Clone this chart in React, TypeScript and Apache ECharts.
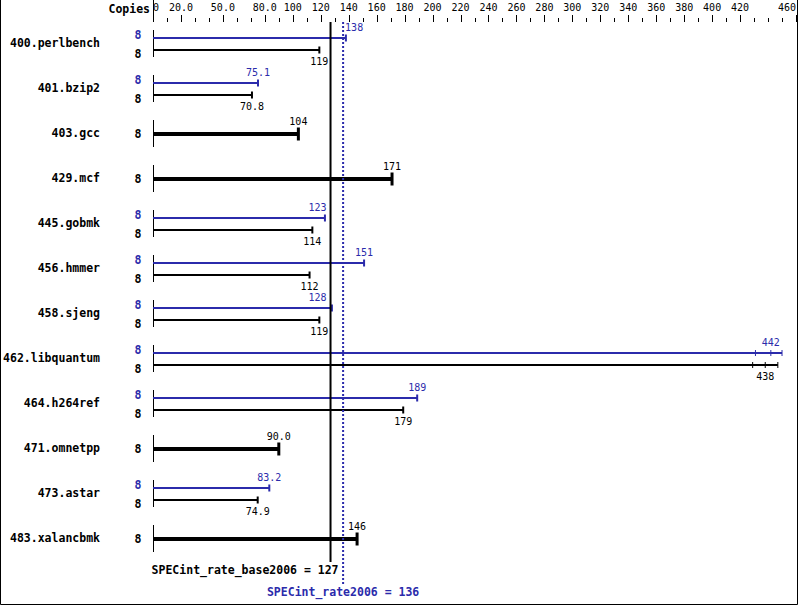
import React, { useEffect, useRef } from "react";
import * as echarts from "echarts";

const benchmarks = [
  "400.perlbench", "401.bzip2", "403.gcc", "429.mcf", "445.gobmk", "456.hmmer",
  "458.sjeng", "462.libquantum", "464.h264ref", "471.omnetpp", "473.astar", "483.xalancbmk",
];
const baseCopies = [8, 8, 8, 8, 8, 8, 8, 8, 8, 8, 8, 8];
const peakCopies: (number | null)[] = [8, 8, null, null, 8, 8, 8, 8, 8, null, 8, null];
const baseValues = [119, 70.8, 104, 171, 114, 112, 119, 438, 179, 90.0, 74.9, 146];
const peakValues: (number | null)[] = [138, 75.1, null, null, 123, 151, 128, 442, 189, null, 83.2, null];
const baseOtherRuns: number[][] = [[], [], [], [], [], [], [], [429, 447], [], [], [], []];
const peakOtherRuns: number[][] = [[], [], [], [], [], [], [], [431, 450], [], [], [], []];
const tickLabels = [
  "0", "20.0", "50.0", "80.0", "100", "120", "140", "160", "180", "200", "220", "240",
  "260", "280", "300", "320", "340", "360", "380", "400", "420", "460",
];
const baseMean = 127;
const peakMean = 136;
const baseSummaryLabel = "SPECint_rate_base2006 = 127";
const peakSummaryLabel = "SPECint_rate2006 = 136";

const AXIS_MAX = 460;
const MINOR_STEP = 10;
const tickValues = tickLabels.map((t) => parseFloat(t));
const minorTickValues: number[] = [];
for (let v = 0; v <= AXIS_MAX; v += MINOR_STEP) minorTickValues.push(v);

const MONO = "DejaVu Sans Mono";
const BLUE = "#2b2bab";
const BLACK = "#000000";
const BOLD_CHAR_W = 11.5 * 0.602;

function fmt(v: number): string {
  return v >= 100 ? v.toFixed(0) : v.toFixed(1);
}

function placeLabel(x: number, w: number, lines: number[]) {
  const overlaps = (l: number, r: number) => lines.some((L) => L >= l - 1.5 && L <= r + 1.5);
  if (!overlaps(x - w / 2, x + w / 2)) return x - w / 2;
  const conflicting = lines.filter((L) => L >= x - w / 2 - 1.5 && L <= x + w / 2 + 1.5);
  const leftL = Math.min(...conflicting);
  const rightL = Math.max(...conflicting);
  const endX = leftL - 4;
  if (!overlaps(endX - w, endX)) return endX - w;
  return rightL + 2;
}

export default function App() {
  const ref = useRef<HTMLDivElement>(null);
  useEffect(() => {
    if (!ref.current) return;
    const chart = echarts.init(ref.current, undefined, { renderer: "svg" });
    const valFont = 10;
    const charW = valFont * 0.602;

    const option: any = {
      animation: false,
      backgroundColor: "#ffffff",
      textStyle: { fontFamily: MONO },
      grid: { left: 153, right: 3, top: 22, bottom: 44, containLabel: false, outerBoundsMode: "none" },
      xAxis: {
        type: "value", position: "top", min: 0, max: AXIS_MAX,
        axisLine: { show: false, onZero: false },
        axisTick: { show: false },
        axisLabel: {
          show: true, customValues: tickValues, margin: 10,
          formatter: (v: number) => {
            const k = tickValues.indexOf(v);
            return k >= 0 ? tickLabels[k] : "";
          },
          fontFamily: MONO, fontSize: 10, color: BLACK,
          alignMinLabel: "left", alignMaxLabel: "right",
        },
        splitLine: { show: false },
      },
      yAxis: { type: "value", show: false, min: -21.5 / 45, max: -21.5 / 45 + 12, inverse: true, axisLine: { onZero: false } },
      graphic: [
        { type: "line", shape: { x1: 153.5, y1: 0, x2: 153.5, y2: 22 }, style: { stroke: BLACK, lineWidth: 1 } },
        {
          type: "text", x: 150 - 6 * BOLD_CHAR_W, y: 9,
          style: { text: "Copies", align: "left", verticalAlign: "middle", font: "bold 11.5px DejaVu Sans Mono", fill: BLACK },
        },
        { type: "polyline", shape: { points: [[0.5, 0], [0.5, 604.5], [797.5, 604.5], [797.5, 0]] }, style: { stroke: BLACK, lineWidth: 1, fill: null } },
      ],
      series: [
        {
          // axis tick marks: short every 10, long at the labelled values, placed by the x scale
          type: "custom",
          coordinateSystem: "cartesian2d",
          clip: false,
          silent: true,
          z: 10,
          data: minorTickValues.map((v) => [v, 0]),
          renderItem: (params: any, api: any) => {
            const v = api.value(0);
            const x = Math.round(api.coord([v, 0])[0]) + 0.5;
            const top = params.coordSys.y;
            const long = tickValues.indexOf(v) >= 0;
            return {
              type: "line",
              shape: { x1: x, y1: top - (long ? 7 : 4), x2: x, y2: top },
              style: { stroke: BLACK, lineWidth: 1 },
            };
          },
        },
        {
          type: "custom",
          coordinateSystem: "cartesian2d",
          clip: false,
          data: benchmarks.map((_, i) => [0, i]),
          renderItem: (params: any, api: any) => {
            const i = params.dataIndex;
            const [x0raw, cy] = api.coord([0, i]);
            const x0 = Math.round(x0raw);
            const lines = [api.coord([baseMean, 0])[0], api.coord([peakMean, 0])[0]];
            const children: any[] = [];
            const name = benchmarks[i];
            children.push({
              type: "text",
              x: x0 - 53 - name.length * BOLD_CHAR_W,
              y: cy - 0.5,
              style: { text: name, align: "left", verticalAlign: "middle", font: "bold 11.5px DejaVu Sans Mono", fill: BLACK },
            });
            children.push({ type: "line", shape: { x1: x0 + 0.5, y1: cy - 13.5, x2: x0 + 0.5, y2: cy + 13.5 }, style: { stroke: BLACK, lineWidth: 1 } });

            const drawBar = (v: number, others: number[], y: number, color: string, thick: boolean, labelPos: "above" | "below", copies: number) => {
              const all = [v, ...others];
              const xmax = api.coord([Math.max(...all), i])[0];
              children.push({ type: "line", shape: { x1: x0, y1: y, x2: xmax, y2: y }, style: { stroke: color, lineWidth: thick ? 4 : 2 } });
              const th = thick ? 13 : others.length ? 6 : 7;
              const tw = thick ? 3 : others.length ? 1 : 2;
              all.forEach((rv) => {
                const xr = api.coord([rv, i])[0];
                children.push({ type: "line", shape: { x1: xr, y1: y - th / 2, x2: xr, y2: y + th / 2 }, style: { stroke: color, lineWidth: tw } });
              });
              const xv = api.coord([v, i])[0];
              const txt = fmt(v);
              const lx = placeLabel(xv, txt.length * charW, lines);
              const ly = labelPos === "above" ? y - (thick ? 12.3 : 10.5) : y + 11.5;
              children.push({
                type: "text",
                x: lx,
                y: ly,
                style: { text: txt, align: "left", verticalAlign: "middle", font: "10px DejaVu Sans Mono", fill: color },
              });
              const cyOff = thick ? 0 : labelPos === "above" ? -3.5 : 3.5;
              children.push({
                type: "text",
                x: x0 - 15 - BOLD_CHAR_W / 2,
                y: y + cyOff,
                style: { text: String(copies), align: "left", verticalAlign: "middle", font: "bold 11.5px DejaVu Sans Mono", fill: color },
              });
            };

            const pv = peakValues[i];
            if (pv != null) {
              drawBar(pv, peakOtherRuns[i], cy - 5.5, BLUE, false, "above", peakCopies[i] as number);
              drawBar(baseValues[i], baseOtherRuns[i], cy + 6.5, BLACK, false, "below", baseCopies[i]);
            } else {
              drawBar(baseValues[i], baseOtherRuns[i], cy + 0.5, BLACK, true, "above", baseCopies[i]);
            }
            return { type: "group", children };
          },
        },
        {
          type: "custom",
          coordinateSystem: "cartesian2d",
          clip: false,
          z: 5,
          data: [[baseMean, 0], [peakMean, 0]],
          renderItem: (params: any, api: any) => {
            const k = params.dataIndex;
            const v = api.value(0);
            const x = api.coord([v, 0])[0];
            const cs = params.coordSys;
            const top = cs.y;
            const bottom = cs.y + cs.height;
            if (k === 0) {
              return {
                type: "group",
                children: [
                  { type: "line", shape: { x1: x, y1: top, x2: x, y2: bottom }, style: { stroke: BLACK, lineWidth: 2 } },
                  {
                    type: "text",
                    x: x + 8 - baseSummaryLabel.length * BOLD_CHAR_W,
                    y: bottom + 8,
                    style: { text: baseSummaryLabel, align: "left", verticalAlign: "middle", font: "bold 11.5px DejaVu Sans Mono", fill: BLACK },
                  },
                ],
              };
            }
            return {
              type: "group",
              children: [
                { type: "line", shape: { x1: x, y1: top, x2: x, y2: bottom + 23 }, style: { stroke: BLUE, lineWidth: 2, lineDash: [2, 2] } },
                {
                  type: "text",
                  x: x - (peakSummaryLabel.length * BOLD_CHAR_W) / 2,
                  y: bottom + 30,
                  style: { text: peakSummaryLabel, align: "left", verticalAlign: "middle", font: "bold 11.5px DejaVu Sans Mono", fill: BLUE },
                },
              ],
            };
          },
        },
      ],
    };
    chart.setOption(option);
    return () => chart.dispose();
  }, []);
  return (
    <div
      ref={ref}
      style={{ position: "absolute", left: 0, top: 0, width: 799, height: 606, background: "#fff" }}
    />
  );
}
